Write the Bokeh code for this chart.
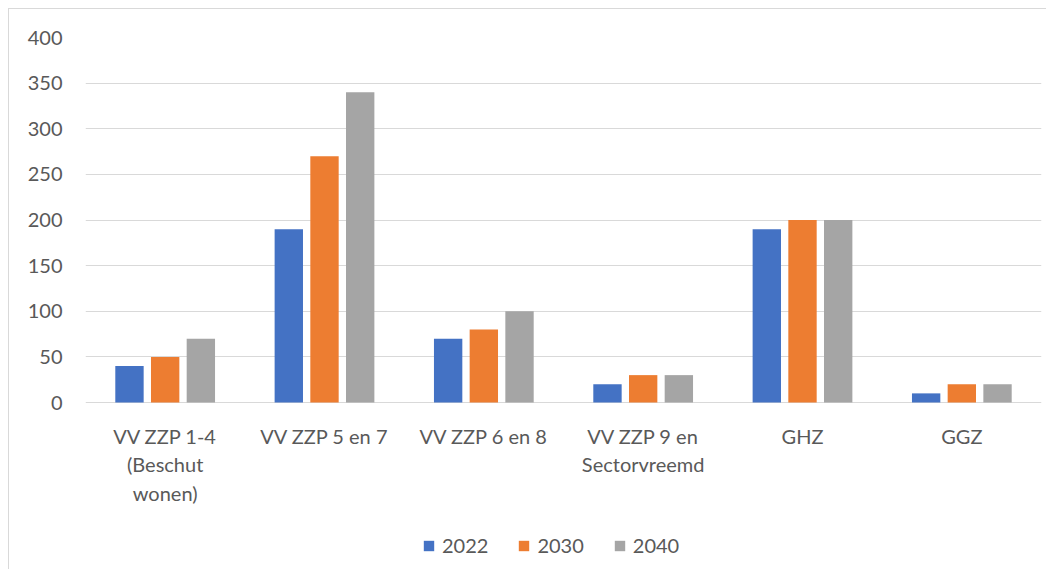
from bokeh.plotting import figure
from bokeh.models import ColumnDataSource, FactorRange, FixedTicker, Legend, LegendItem, Range1d
from bokeh.transform import dodge
from bokeh.embed import file_html
from bokeh.resources import INLINE

categories = ["VV ZZP 1-4\n(Beschut\nwonen)", "VV ZZP 5 en 7", "VV ZZP 6 en 8",
              "VV ZZP 9 en\nSectorvreemd", "GHZ", "GGZ"]
years = ["2022", "2030", "2040"]
v2022 = [40, 190, 70, 20, 190, 10]
v2030 = [50, 270, 80, 30, 200, 20]
v2040 = [70, 340, 100, 30, 200, 20]
colors = ["#4472C4", "#ED7D31", "#A5A5A5"]
y_ticks = [0, 50, 100, 150, 200, 250, 300, 350, 400]

FONT = "Lato"
TXT = "#595959"

# layout in pixels (canvas)
W, H = 1038, 561
TOP, ZERO_PX, BOTTOM = 28, 393, 560
ymax = 400
y_min = ymax - (BOTTOM - TOP) * ymax / (ZERO_PX - TOP)

src = ColumnDataSource(dict(cat=categories, v2022=v2022, v2030=v2030, v2040=v2040))

p = figure(width=W, height=H, x_range=FactorRange(*categories, range_padding=0),
           y_range=Range1d(y_min, ymax), output_backend="svg", toolbar_location=None,
           min_border_left=76, min_border_right=6, min_border_top=TOP,
           min_border_bottom=H - BOTTOM)
p.styles = {"margin-left": "8px", "margin-top": "8px",
            "border-left": "1px solid #D9D9D9", "border-top": "1px solid #D9D9D9"}

renderers = []
for col, off, c in zip(["v2022", "v2030", "v2040"], [-0.224, 0.0, 0.224], colors):
    r = p.vbar(x=dodge("cat", off, range=p.x_range), top=col, width=0.178, source=src,
               fill_color=c, line_color=None)
    renderers.append(r)

p.outline_line_color = None
p.xgrid.grid_line_color = None
p.ygrid.grid_line_color = "#D9D9D9"
p.ygrid.grid_line_width = 1
p.yaxis.ticker = FixedTicker(ticks=y_ticks)

for ax in (p.xaxis, p.yaxis):
    ax.axis_line_color = None
    ax.major_tick_line_color = None
    ax.minor_tick_line_color = None
    ax.major_label_text_font = FONT
    ax.major_label_text_font_size = "20px"
    ax.major_label_text_color = TXT

p.xaxis.fixed_location = 0
p.yaxis.major_label_standoff = 17
p.xaxis.major_label_standoff = 15

legend = Legend(items=[LegendItem(label=y, renderers=[r]) for y, r in zip(years, renderers)],
                orientation="horizontal", location=(337, 12))
legend.label_text_font = FONT
legend.label_text_font_size = "20px"
legend.label_text_color = TXT
legend.glyph_width = 13
legend.glyph_height = 13
legend.label_standoff = 7
legend.spacing = 29
legend.border_line_color = None
legend.background_fill_alpha = 0
legend.margin = 0
legend.padding = 0
p.add_layout(legend)

open("out.html", "w").write(file_html(p, INLINE))
